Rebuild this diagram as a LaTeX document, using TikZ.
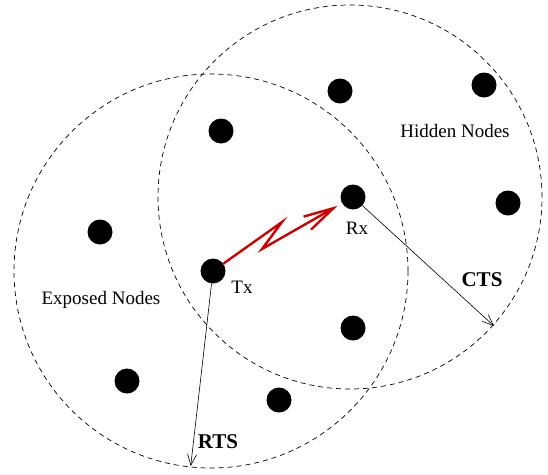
\documentclass[tikz,border=0pt]{standalone}
\usepackage{fontspec}
\setmainfont{Liberation Serif}
\usetikzlibrary{arrows.meta}

\definecolor{boltred}{RGB}{205,0,0}

\begin{document}
\begin{tikzpicture}[x=1pt, y=-1pt,
	dot/.style={circle, fill=black, inner sep=0pt, minimum size=25pt},
	coverage/.style={dashed, dash pattern=on 5pt off 4pt, line width=.7pt},
	msg/.style={line width=.6pt, -{Straight Barb[length=11pt, width=9pt]}},
	bolt/.style={boltred, line width=2.4pt, line join=miter,
		-{Straight Barb[length=30pt, width=15pt]}, shorten >=5pt},
	lbl/.style={font=\fontsize{19}{21}\selectfont, inner sep=0pt},
	blbl/.style={font=\fontsize{21}{23}\selectfont\bfseries, inner sep=0pt}]

	\useasboundingbox (0,0) rectangle (548,474);

	% transmitter and receiver
	\node[dot] (tx) at (213,271) {};
	\node[dot] (rx) at (353,197) {};
	\node[lbl] (txl) at (242,287) {Tx};
	\node[lbl] (rxl) at (357,228) {Rx};

	% ranges
	\draw[coverage] (211,271) circle[radius=197pt];
	\draw[coverage] (350,197) circle[radius=192pt];

	% other nodes
	\node[dot] (n1) at (221,131) {};
	\node[dot] (n2) at (340,91) {};
	\node[dot] (n3) at (484,85) {};
	\node[dot] (n4) at (100,232) {};
	\node[dot] (n5) at (508,203) {};
	\node[dot] (n6) at (353,328) {};
	\node[dot] (n7) at (127,381) {};
	\node[dot] (n8) at (279,400) {};

	\node[lbl] (hidden) at (455,131) {Hidden Nodes};
	\node[lbl] (exposed) at (101,300) {Exposed Nodes};

	% RTS / CTS
	\coordinate (rtsend) at (190.7,466);
	\coordinate (ctsend) at (494,326);
	\draw[msg] (tx) -- (rtsend);
	\draw[msg] (rx) -- (ctsend);
	\node[blbl] (rts) at (218,442) {RTS};
	\node[blbl] (cts) at (482,280) {CTS};

	% data
	\coordinate (z1) at (282,222);
	\coordinate (z2) at (262,249);
	\draw[bolt] (tx) -- (z1) -- (z2) -- (rx);

\end{tikzpicture}
\end{document}
